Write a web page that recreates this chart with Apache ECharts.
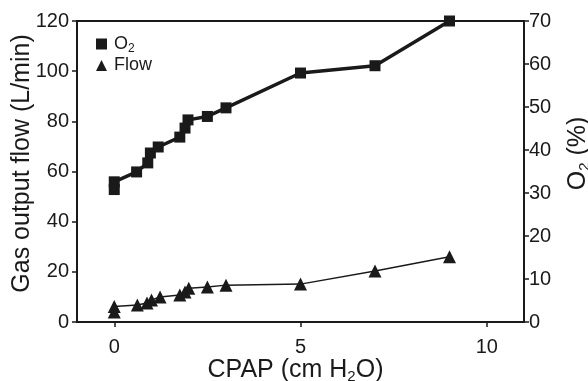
<!DOCTYPE html>
<html>
<head>
<meta charset="utf-8">
<script src="https://cdn.jsdelivr.net/npm/echarts@6/dist/echarts.min.js"></script>
<style>
  html, body { margin: 0; padding: 0; background: #fff; }
  #chart { width: 588px; height: 381px; }
</style>
</head>
<body>
<div id="chart"></div>
<script>
// CPAP (cm H2O) vs O2 (%) -- right axis
var o2Cpap = [0, 0, 0.6, 0.9, 0.97, 1.18, 1.76, 1.9, 1.98, 2.5, 3, 5, 7, 9];
var o2Pct = [30.8, 32.6, 34.9, 37.0, 39.3, 40.7, 43.0, 45.1, 47.0, 47.8, 49.8, 57.9, 59.6, 70];

// CPAP vs gas output flow (L/min) -- left axis
var flowCpap = [0, 0, 0.62, 0.88, 1.0, 1.23, 1.76, 1.9, 2.0, 2.5, 3, 5, 7, 9];
var flowLmin = [4.0, 6.2, 6.8, 7.6, 8.8, 10.0, 10.8, 12.0, 13.5, 14.0, 14.7, 15.1, 20.3, 26.0];

var xTicks = [0, 5, 10];

var ink = "#1a1a1a";
var font = "Liberation Sans, Arial, sans-serif";

function pairs(xs, ys) {
  return xs.map(function (x, i) { return [x, ys[i]]; });
}

var myChart = echarts.init(document.getElementById("chart"));

var tickStyle = { show: true, inside: false, length: 5, lineStyle: { color: ink, width: 1.5 } };
var lineStyle = { show: true, onZero: false, lineStyle: { color: ink, width: 2 } };
var labelStyle = { color: ink, fontSize: 20, fontFamily: font };
var subRich = { s: { fontSize: 15, fontFamily: font, color: ink, padding: [12, 0, 0, 0] } };

var option = {
  animation: false,
  grid: {
    left: 77, right: 64, top: 21, bottom: 59,
    containLabel: false,
    outerBoundsMode: "none",
    show: true, borderColor: ink, borderWidth: 2
  },
  legend: {
    orient: "vertical",
    left: 91, top: 30,
    itemWidth: 11, itemHeight: 11, itemGap: 2,
    data: [
      { name: "O2", icon: "rect" },
      { name: "Flow", icon: "triangle" }
    ],
    formatter: function (name) {
      return name === "O2" ? "O{s|2}" : "Flow";
    },
    textStyle: {
      color: ink, fontSize: 18, fontFamily: font, padding: [0, 0, 0, 2],
      rich: { s: { fontSize: 12, fontFamily: font, color: ink, padding: [9, 0, 0, 0] } }
    }
  },
  xAxis: {
    type: "value",
    min: -1, max: 11,
    name: "CPAP (cm H{s|2}O)",
    nameLocation: "middle",
    nameGap: 35,
    nameMoveOverlap: false,
    nameTextStyle: { fontSize: 25, fontFamily: font, color: ink, padding: [0, 10, 0, 0], rich: subRich },
    axisLine: lineStyle,
    axisTick: Object.assign({}, tickStyle, { customValues: xTicks }),
    axisLabel: Object.assign({}, labelStyle, { customValues: xTicks, margin: 15 }),
    splitLine: { show: false }
  },
  yAxis: [
    {
      type: "value",
      position: "left",
      min: 0, max: 120, interval: 20,
      name: "Gas output flow (L/min)",
      nameLocation: "middle",
      nameGap: 42,
      nameMoveOverlap: false,
      nameRotate: 90,
      nameTextStyle: { fontSize: 25, fontFamily: font, color: ink, padding: [0, 0, 0, 16] },
      axisLine: lineStyle,
      axisTick: tickStyle,
      axisLabel: Object.assign({}, labelStyle, { margin: 8 }),
      splitLine: { show: false }
    },
    {
      type: "value",
      position: "right",
      min: 0, max: 70, interval: 10,
      name: "O{s|2} (%)",
      nameLocation: "middle",
      nameGap: 41,
      nameMoveOverlap: false,
      nameRotate: 90,
      nameTextStyle: { fontSize: 25, fontFamily: font, color: ink, padding: [0, 0, 0, 36], rich: subRich },
      axisLine: lineStyle,
      axisTick: tickStyle,
      axisLabel: Object.assign({}, labelStyle, { margin: 5 }),
      splitLine: { show: false }
    }
  ],
  series: [
    {
      name: "O2",
      type: "line",
      yAxisIndex: 1,
      data: pairs(o2Cpap, o2Pct),
      symbol: "rect",
      symbolSize: 11,
      itemStyle: { color: ink },
      lineStyle: { color: ink, width: 3.5 },
      z: 3
    },
    {
      name: "Flow",
      type: "line",
      yAxisIndex: 0,
      data: pairs(flowCpap, flowLmin),
      symbol: "triangle",
      symbolSize: 13,
      itemStyle: { color: ink },
      lineStyle: { color: ink, width: 1.5 },
      z: 3
    }
  ]
};

myChart.setOption(option);
</script>
</body>
</html>
